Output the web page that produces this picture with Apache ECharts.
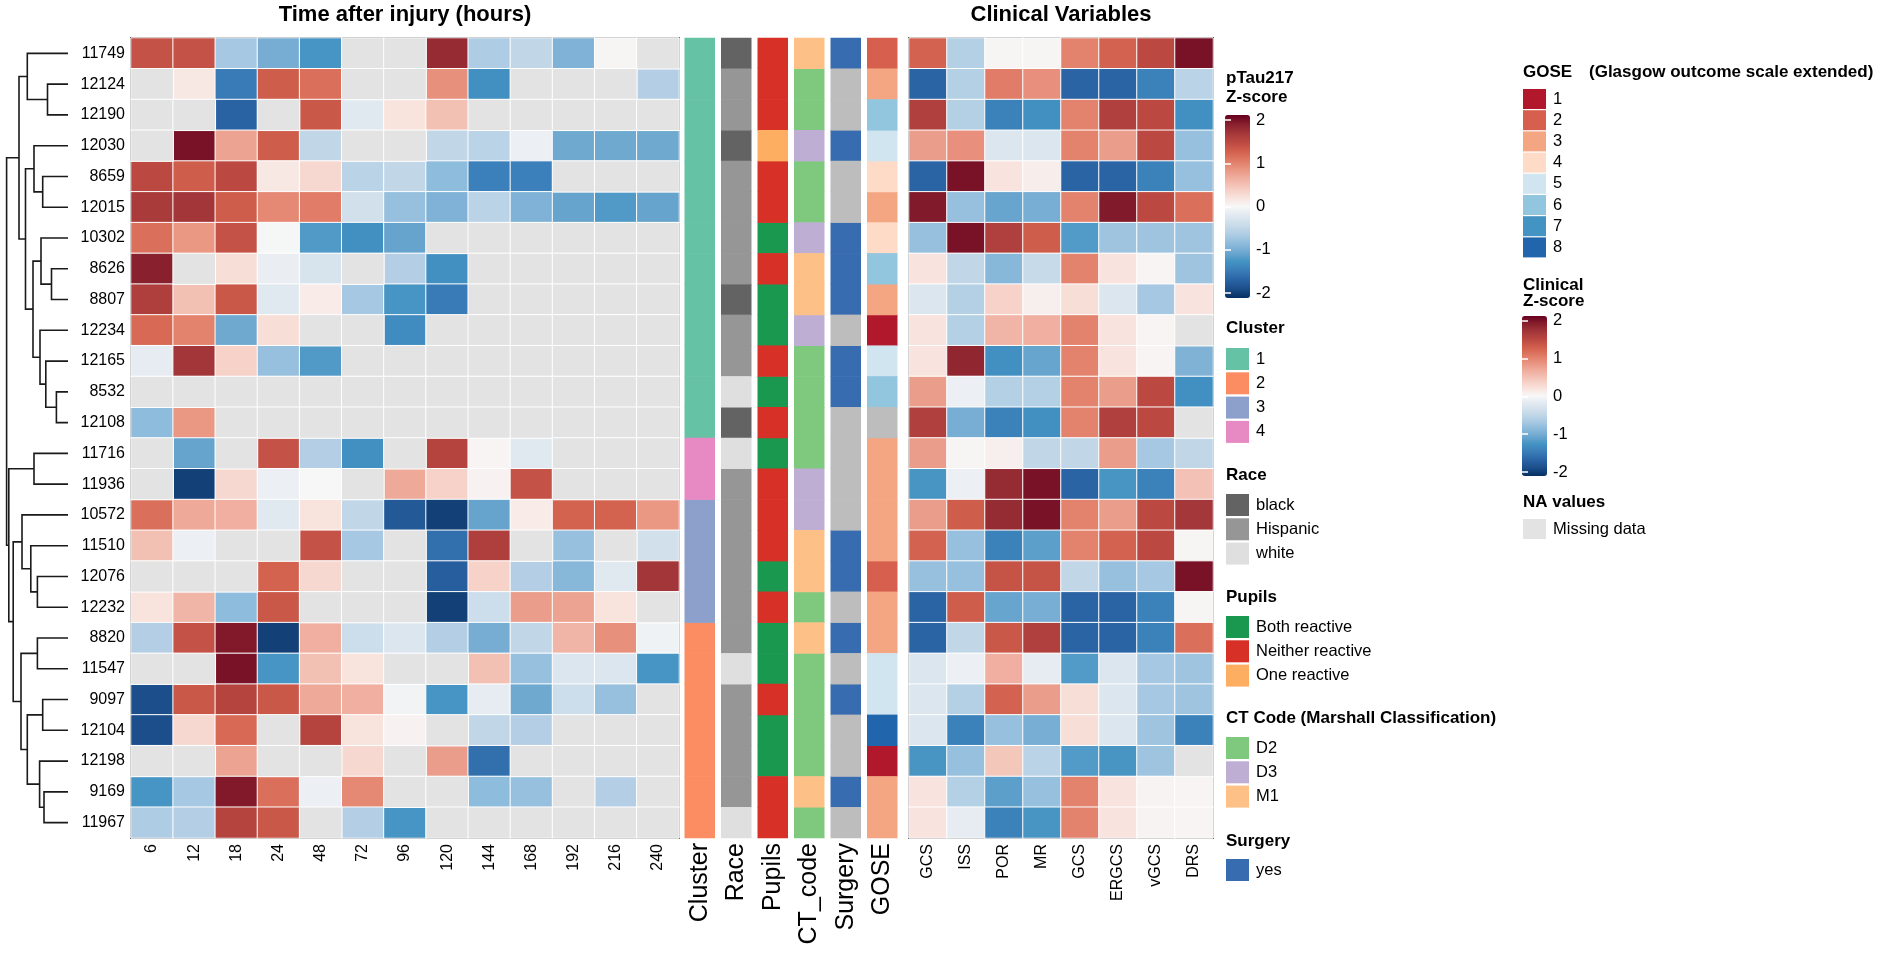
<!DOCTYPE html>
<html>
<head>
<meta charset="utf-8">
<title>pTau217 heatmap</title>
<script src="https://cdn.jsdelivr.net/npm/echarts@6/dist/echarts.min.js"></script>
<style>
  * { margin: 0; padding: 0 }
  html, body { width: 100%; height: 100%; background: #fff; }
  #main { width: 1902px; height: 954px; }
</style>
</head>
<body>
<div id="main"></div>
<script>
// ---------- data ----------
var rowIds = ['11749', '12124', '12190', '12030', '8659', '12015', '10302', '8626', '8807', '12234', '12165', '8532', '12108',
  '11716', '11936', '10572', '11510', '12076', '12232', '8820', '11547', '9097', '12104', '12198', '9169', '11967'];
var timePoints = ['6', '12', '18', '24', '48', '72', '96', '120', '144', '168', '192', '216', '240'];
var clinicalVars = ['GCS', 'ISS', 'POR', 'MR', 'GCS', 'ERGCS', 'vGCS', 'DRS'];
var annotNames = ['Cluster', 'Race', 'Pupils', 'CT_code', 'Surgery', 'GOSE'];

// pTau217 z-scores, one row per patient (null = missing)
var pTau = [
  [1.4, 1.4, -0.7, -1.0, -1.25, null, null, 1.8, -0.65, -0.5, -0.95, 0.02, null],
  [null, 0.15, -1.5, 1.3, 1.15, null, null, 0.9, -1.3, null, null, null, -0.6],
  [null, null, -1.7, null, 1.35, -0.2, 0.2, 0.5, null, null, null, null, null],
  [null, 2.0, 0.75, 1.3, -0.5, null, null, -0.5, -0.55, -0.1, -1.05, -1.05, -1.05],
  [1.5, 1.3, 1.5, 0.15, 0.3, -0.55, -0.5, -0.85, -1.45, -1.45, null, null, null],
  [1.65, 1.7, 1.3, 0.95, 1.05, -0.35, -0.8, -0.95, -0.55, -0.95, -1.1, -1.2, -1.1],
  [1.15, 0.85, 1.4, -0.02, -1.2, -1.3, -1.1, null, null, null, null, null, null],
  [1.9, null, 0.25, -0.12, -0.3, null, -0.6, -1.3, null, null, null, null, null],
  [1.6, 0.5, 1.35, -0.2, 0.12, -0.7, -1.25, -1.5, null, null, null, null, null],
  [1.2, 1.0, -1.05, 0.25, null, null, -1.35, null, null, null, null, null, null],
  [-0.15, 1.7, 0.35, -0.8, -1.2, null, null, null, null, null, null, null, null],
  [null, null, null, null, null, null, null, null, null, null, null, null, null],
  [-0.85, 0.85, null, null, null, null, null, null, null, null, null, null, null],
  [null, -1.1, null, 1.4, -0.6, -1.3, null, 1.55, 0.03, -0.2, null, null, null],
  [null, -2.0, 0.3, -0.1, 0.0, null, 0.7, 0.35, 0.05, 1.4, null, null, null],
  [1.15, 0.7, 0.65, -0.2, 0.2, -0.5, -1.8, -2.0, -1.1, 0.12, 1.25, 1.25, 0.85],
  [0.5, -0.1, null, null, 1.4, -0.7, null, -1.6, 1.6, null, -0.8, null, -0.35],
  [null, null, null, 1.25, 0.3, null, null, -1.75, 0.35, -0.6, -0.9, -0.2, 1.7],
  [0.2, 0.6, -0.85, 1.35, null, null, null, -2.0, -0.4, 0.8, 0.75, 0.2, null],
  [-0.6, 1.4, 1.95, -2.0, 0.65, -0.4, -0.25, -0.6, -1.0, -0.5, 0.6, 0.9, -0.07],
  [null, null, 2.0, -1.25, 0.5, 0.2, null, null, 0.5, -0.8, -0.25, -0.25, -1.25],
  [-1.9, 1.35, 1.55, 1.35, 0.7, 0.65, -0.05, -1.25, -0.15, -1.05, -0.4, -0.8, null],
  [-1.9, 0.3, 1.2, null, 1.55, 0.2, 0.05, null, -0.5, -0.6, null, null, null],
  [null, null, 0.75, null, null, 0.3, null, 0.8, -1.6, null, null, null, null],
  [-1.25, -0.7, 1.95, 1.15, -0.1, 0.95, null, null, -0.85, -0.8, null, -0.6, null],
  [-0.65, -0.6, 1.55, 1.35, null, -0.6, -1.25, null, null, null, null, null, null]
];

// clinical z-scores
var clinical = [
  [1.25, -0.6, 0.02, 0.02, 1.0, 1.25, 1.5, 2.0],
  [-1.7, -0.6, 1.05, 0.9, -1.7, -1.7, -1.45, -0.55],
  [1.6, -0.6, -1.45, -1.3, 1.0, 1.6, 1.5, -1.3],
  [0.8, 0.9, -0.25, -0.25, 1.0, 0.8, 1.5, -0.8],
  [-1.7, 2.0, 0.2, 0.1, -1.7, -1.7, -1.45, -0.8],
  [1.95, -0.8, -1.1, -1.0, 1.0, 1.95, 1.5, 1.15],
  [-0.8, 2.0, 1.6, 1.3, -1.2, -0.75, -0.75, -0.75],
  [0.2, -0.5, -0.9, -0.45, 1.0, 0.2, 0.03, -0.75],
  [-0.25, -0.6, 0.35, 0.08, 0.25, -0.25, -0.7, 0.2],
  [0.2, -0.6, 0.6, 0.65, 1.0, 0.2, 0.03, null],
  [0.2, 1.85, -1.3, -1.1, 1.0, 0.2, 0.03, -0.95],
  [0.8, -0.1, -0.6, -0.6, 1.0, 0.8, 1.5, -1.3],
  [1.6, -1.0, -1.45, -1.3, 1.0, 1.6, 1.5, null],
  [0.8, 0.02, 0.08, -0.5, -0.5, 0.8, -0.7, -0.5],
  [-1.25, -0.1, 1.8, 2.0, -1.7, -1.25, -1.45, 0.5],
  [0.8, 1.3, 1.8, 2.0, 1.0, 0.8, 1.5, 1.7],
  [1.25, -0.8, -1.45, -1.15, 1.0, 1.25, 1.5, 0.02],
  [-0.8, -0.8, 1.4, 1.4, -0.5, -0.8, -0.7, 2.0],
  [-1.7, 1.3, -1.1, -1.0, -1.7, -1.7, -1.45, 0.02],
  [-1.7, -0.5, 1.35, 1.6, -1.7, -1.7, -1.45, 1.15],
  [-0.25, -0.1, 0.65, -0.15, -1.2, -0.25, -0.7, -0.75],
  [-0.25, -0.6, 1.25, 0.8, 0.25, -0.25, -0.7, -0.75],
  [-0.25, -1.45, -0.8, -1.0, 0.25, -0.25, -0.75, -1.45],
  [-1.25, -0.8, 0.45, -0.55, -1.2, -1.25, -0.75, null],
  [0.2, -0.6, -1.15, -0.8, 1.0, 0.2, 0.04, 0.03],
  [0.2, -0.15, -1.45, -1.25, 1.0, 0.2, 0.04, 0.03]
];

// row annotations
var clusterAnn = [1, 1, 1, 1, 1, 1, 1, 1, 1, 1, 1, 1, 1, 4, 4, 3, 3, 3, 3, 2, 2, 2, 2, 2, 2, 2];
var raceAnn = ['black', 'Hispanic', 'Hispanic', 'black', 'Hispanic', 'Hispanic', 'Hispanic', 'Hispanic', 'black', 'Hispanic',
  'Hispanic', 'white', 'black', 'white', 'Hispanic', 'Hispanic', 'Hispanic', 'Hispanic', 'Hispanic', 'Hispanic', 'white',
  'Hispanic', 'Hispanic', 'Hispanic', 'Hispanic', 'white'];
var pupilsAnn = ['Neither reactive', 'Neither reactive', 'Neither reactive', 'One reactive', 'Neither reactive', 'Neither reactive',
  'Both reactive', 'Neither reactive', 'Both reactive', 'Both reactive', 'Neither reactive', 'Both reactive', 'Neither reactive',
  'Both reactive', 'Neither reactive', 'Neither reactive', 'Neither reactive', 'Both reactive', 'Neither reactive', 'Both reactive',
  'Both reactive', 'Neither reactive', 'Both reactive', 'Both reactive', 'Neither reactive', 'Neither reactive'];
var ctAnn = ['M1', 'D2', 'D2', 'D3', 'D2', 'D2', 'D3', 'M1', 'M1', 'D3', 'D2', 'D2', 'D2', 'D2', 'D3', 'D3', 'M1', 'M1', 'D2',
  'M1', 'D2', 'D2', 'D2', 'D2', 'M1', 'D2'];
var surgeryAnn = ['yes', null, null, 'yes', null, null, 'yes', 'yes', 'yes', null, 'yes', 'yes', null, null, null, null, 'yes',
  'yes', null, 'yes', null, 'yes', null, null, 'yes', null];
var goseAnn = [2, 3, 6, 5, 4, 3, 4, 6, 3, 1, 5, 6, null, 3, 3, 3, 3, 2, 3, 3, 5, 5, 8, 1, 3, 3];

// dendrogram merges: [child A, child B, height]; merge k is called 'm' + (k + 1)
var dendroMerges = [
  ['12124', '12190', 20.5], ['11749', 'm1', 40.7], ['8659', '12015', 25.3], ['12030', 'm3', 34],
  ['8626', '8807', 16.5], ['10302', 'm5', 27], ['8532', '12108', 11.6], ['12165', 'm7', 22.2],
  ['12234', 'm8', 28], ['m6', 'm9', 35], ['m4', 'm10', 42.5], ['m2', 'm11', 49],
  ['11716', '11936', 34], ['12076', '12232', 30.6], ['11510', 'm14', 37.2], ['10572', 'm15', 46],
  ['8820', '11547', 30.6], ['9097', '12104', 25.3], ['9169', '11967', 24], ['12198', 'm19', 28.4],
  ['m18', 'm20', 40.7], ['m17', 'm21', 47], ['m16', 'm22', 54.8], ['m13', 'm23', 59.2], ['m12', 'm24', 61.4]
];

// ---------- colours ----------
var FONT = "'Liberation Sans', Arial, Helvetica, sans-serif";
// z-score ramp, -2 .. 2 in steps of 0.2
var zRamp = ['#053061', '#1c4e8a', '#2a64a5', '#3a7db8', '#4393c3', '#6fa8d0', '#8fbcdc', '#b0cde4', '#cadcea', '#e0e8f0',
  '#f7f7f7', '#f8e2dc', '#f5cabf', '#f0b1a2', '#ea9784', '#e07b66', '#d2604d', '#bd4a42', '#a43739', '#88202d', '#67001f'];
var naColor = '#e3e3e3';
var annotNA = '#bdbdbd';
var annotGroups = [
  { key: 'Cluster', values: clusterAnn, levels: [1, 2, 3, 4],
    colors: { 1: '#66c2a5', 2: '#fc8d62', 3: '#8da0cb', 4: '#e78ac3' } },
  { key: 'Race', values: raceAnn, levels: ['black', 'Hispanic', 'white'],
    colors: { black: '#636363', Hispanic: '#969696', white: '#dfdfdf' } },
  { key: 'Pupils', values: pupilsAnn, levels: ['Both reactive', 'Neither reactive', 'One reactive'],
    colors: { 'Both reactive': '#1a9850', 'Neither reactive': '#d73027', 'One reactive': '#fdae61' } },
  { key: 'CT_code', values: ctAnn, levels: ['D2', 'D3', 'M1'],
    colors: { D2: '#7fc97f', D3: '#beaed4', M1: '#fdc086' } },
  { key: 'Surgery', values: surgeryAnn, levels: ['yes'], colors: { yes: '#386cb0' } },
  { key: 'GOSE', values: goseAnn, levels: [1, 2, 3, 4, 5, 6, 7, 8],
    colors: { 1: '#b2182b', 2: '#d6604d', 3: '#f4a582', 4: '#fddbc7', 5: '#d1e5f0', 6: '#92c5de', 7: '#4393c3', 8: '#2166ac' } }
];

// ---------- helpers ----------
function cellData(matrix, wantNA) {
  var out = [];
  matrix.forEach(function (row, r) {
    row.forEach(function (v, c) {
      if ((v === null) === wantNA) out.push([c, r, wantNA ? 0 : v]);
    });
  });
  return out;
}

var nodePos = {};
rowIds.forEach(function (id, i) { nodePos[id] = { y: i + 0.5, h: 0 }; });
var dendroLinks = dendroMerges.map(function (m, k) {
  var a = nodePos[m[0]], b = nodePos[m[1]];
  nodePos['m' + (k + 1)] = { y: (a.y + b.y) / 2, h: m[2] };
  return [a.h, a.y, b.h, b.y, m[2]];
});

function annotRect(params, api) {
  var c = api.coord([api.value(0), api.value(1)]);
  var s = api.size([1, 1]);
  return {
    type: 'rect',
    shape: { x: c[0] - s[0] / 2 + 3, y: c[1] - s[1] / 2 - 0.3, width: s[0] - 6, height: s[1] + 0.6 },
    style: { fill: api.visual('color') }
  };
}

var chart = echarts.init(document.getElementById('main'));

var grids = [
  { left: 6, top: 38, width: 62, height: 800 },        // dendrogram
  { left: 131, top: 38, width: 548, height: 800, show: true, borderColor: '#1a1a1a', borderWidth: 2 },
  { left: 681.5, top: 38, width: 219, height: 800 },   // annotations
  { left: 909, top: 38, width: 304, height: 800, show: true, borderColor: '#1a1a1a', borderWidth: 2 },
  { left: 1225, top: 120, width: 25, height: 173 },    // pTau colour bar ticks
  { left: 1522, top: 320.5, width: 25, height: 151.5 } // clinical colour bar ticks
];
grids.forEach(function (g) { g.outerBoundsMode = 'none'; g.containLabel = false; });

var hiddenCat = function (gi, data) {
  return { type: 'category', gridIndex: gi, data: data, inverse: true, show: false };
};
var tickAxis = function (gi, pos, showLabel) {
  return {
    type: 'value', gridIndex: gi, position: pos, min: -2, max: 2, interval: 1, z: 10,
    axisLine: { show: false }, splitLine: { show: false },
    axisTick: { show: true, inside: true, length: 6, lineStyle: { color: '#fff', width: 1.5 } },
    axisLabel: { show: showLabel, fontSize: 16.5, color: '#000', fontFamily: FONT, margin: 6 }
  };
};

var xAxes = [
  { type: 'value', gridIndex: 0, min: 0, max: 62, inverse: true, show: false },
  { type: 'category', gridIndex: 1, data: timePoints, position: 'bottom',
    axisLine: { show: false }, axisTick: { show: false },
    axisLabel: { rotate: 90, interval: 0, fontSize: 16, color: '#000', fontFamily: FONT, margin: 6 } },
  { type: 'category', gridIndex: 2, data: annotNames, position: 'bottom',
    axisLine: { show: false }, axisTick: { show: false },
    axisLabel: { rotate: 90, interval: 0, fontSize: 25, color: '#000', fontFamily: FONT, margin: 5 } },
  { type: 'category', gridIndex: 3, data: clinicalVars, position: 'bottom',
    axisLine: { show: false }, axisTick: { show: false },
    axisLabel: { rotate: 90, interval: 0, fontSize: 16, color: '#000', fontFamily: FONT, margin: 6 } },
  { type: 'value', gridIndex: 4, show: false },
  { type: 'value', gridIndex: 5, show: false }
];
var yAxes = [
  { type: 'value', gridIndex: 0, min: 0, max: rowIds.length, inverse: true, show: false },
  { type: 'category', gridIndex: 1, data: rowIds, inverse: true,
    axisLine: { show: false }, axisTick: { show: false },
    axisLabel: { interval: 0, fontSize: 16, color: '#000', fontFamily: FONT, margin: 6 } },
  hiddenCat(2, rowIds),
  hiddenCat(3, rowIds),
  tickAxis(4, 'right', true), tickAxis(4, 'left', false),
  tickAxis(5, 'right', true), tickAxis(5, 'left', false)
];

var cellStyle = { borderColor: '#fff', borderWidth: 1 };
var series = [
  { type: 'custom', xAxisIndex: 0, yAxisIndex: 0, silent: true, data: dendroLinks,
    encode: { x: [0, 2, 4], y: [1, 3] },
    renderItem: function (params, api) {
      var p1 = api.coord([api.value(0), api.value(1)]);
      var p2 = api.coord([api.value(4), api.value(1)]);
      var p3 = api.coord([api.value(4), api.value(3)]);
      var p4 = api.coord([api.value(2), api.value(3)]);
      return { type: 'polyline', shape: { points: [p1, p2, p3, p4] },
        style: { stroke: '#1a1a1a', lineWidth: 1.6, fill: null } };
    } },
  { name: 'pTau217', type: 'heatmap', xAxisIndex: 1, yAxisIndex: 1, data: cellData(pTau, false),
    itemStyle: cellStyle, emphasis: { disabled: true } },
  { name: 'NA:Missing data', type: 'heatmap', xAxisIndex: 1, yAxisIndex: 1, data: cellData(pTau, true),
    itemStyle: cellStyle, emphasis: { disabled: true } },
  { name: 'Clinical', type: 'heatmap', xAxisIndex: 3, yAxisIndex: 3, data: cellData(clinical, false),
    itemStyle: cellStyle, emphasis: { disabled: true } },
  { name: 'NA:Missing data', type: 'heatmap', xAxisIndex: 3, yAxisIndex: 3, data: cellData(clinical, true),
    itemStyle: cellStyle, emphasis: { disabled: true } }
];

var naAnnot = [];
annotGroups.forEach(function (g, gi) {
  g.levels.forEach(function (lv) {
    var d = [];
    g.values.forEach(function (v, r) { if (v === lv) d.push([gi, r]); });
    series.push({ name: g.key + ':' + lv, type: 'custom', xAxisIndex: 2, yAxisIndex: 2, silent: true,
      itemStyle: { color: g.colors[lv] }, encode: { x: 0, y: 1 }, data: d, renderItem: annotRect });
  });
  g.values.forEach(function (v, r) { if (v === null) naAnnot.push([gi, r]); });
});
series.push({ name: 'annotNA', type: 'custom', xAxisIndex: 2, yAxisIndex: 2, silent: true,
  itemStyle: { color: annotNA }, encode: { x: 0, y: 1 }, data: naAnnot, renderItem: annotRect });

function legendFor(group, levels, colors, left, top, h, gap) {
  return {
    orient: 'vertical', left: left, top: top, padding: 0, itemWidth: 23, itemHeight: h, itemGap: gap,
    icon: 'rect', selectedMode: false,
    data: levels.map(function (l) { return { name: group + ':' + l, itemStyle: { color: colors[l], borderWidth: 0 } }; }),
    formatter: function (n) { return n.slice(n.indexOf(':') + 1); },
    textStyle: { fontSize: 16.5, color: '#000', fontFamily: FONT, padding: [0, 0, 0, 2] }
  };
}
var legendTops = { Cluster: 348, Race: 494, Pupils: 616, CT_code: 737, Surgery: 859 };
var legends = annotGroups.map(function (g) {
  if (g.key === 'GOSE') return legendFor('GOSE', g.levels, g.colors, 1523, 89, 20, 1.2);
  return legendFor(g.key, g.levels, g.colors, 1226, legendTops[g.key], 22, 2.3);
});
legends.push(legendFor('NA', ['Missing data'], { 'Missing data': naColor }, 1523, 519, 20, 1));

function heading(text, x, y, size, align) {
  return { type: 'text', x: x, y: y, silent: true,
    style: { text: text, fill: '#000', font: 'bold ' + size + 'px ' + FONT,
      align: align || 'left', verticalAlign: 'middle', textAlign: align || 'left', textVerticalAlign: 'middle' } };
}

var option = {
  backgroundColor: '#fff',
  animation: false,
  grid: grids,
  xAxis: xAxes,
  yAxis: yAxes,
  visualMap: [
    { type: 'continuous', seriesIndex: 1, min: -2.116, max: 2.116, show: true, calculable: false, hoverLink: false,
      left: 1225, top: 115, itemWidth: 25, itemHeight: 183, padding: 0, text: null, inRange: { color: zRamp } },
    { type: 'continuous', seriesIndex: 3, min: -2.12, max: 2.12, show: true, calculable: false, hoverLink: false,
      left: 1522, top: 316, itemWidth: 25, itemHeight: 160, padding: 0, text: null, inRange: { color: zRamp } },
    { type: 'continuous', seriesIndex: [2, 4], min: 0, max: 1, show: false, inRange: { color: [naColor, naColor] } }
  ],
  legend: legends,
  graphic: [
    heading('Time after injury (hours)', 405, 15, 22, 'center'),
    heading('Clinical Variables', 1061, 15, 22, 'center'),
    heading('pTau217', 1226, 78, 17),
    heading('Z-score', 1226, 97, 17),
    heading('Cluster', 1226, 328, 17),
    heading('Race', 1226, 475, 17),
    heading('Pupils', 1226, 597, 17),
    heading('CT Code (Marshall Classification)', 1226, 718, 17),
    heading('Surgery', 1226, 841, 17),
    heading('GOSE', 1523, 72, 17),
    heading('(Glasgow outcome scale extended)', 1589, 72, 17),
    heading('Clinical', 1523, 285, 17),
    heading('Z-score', 1523, 301, 17),
    heading('NA values', 1523, 502, 17)
  ],
  series: series
};
chart.setOption(option);
</script>
</body>
</html>
